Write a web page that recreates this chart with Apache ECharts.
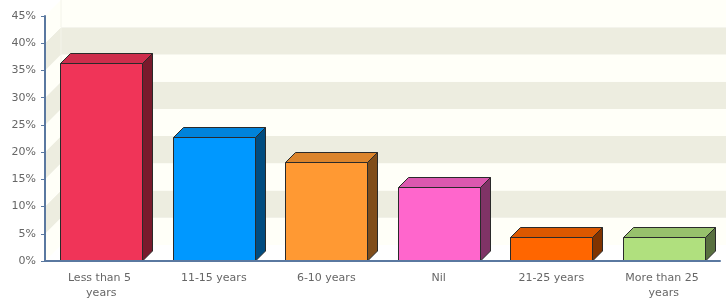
<!DOCTYPE html>
<html><head><meta charset="utf-8">
<script src="https://cdn.jsdelivr.net/npm/echarts@6/dist/echarts.min.js"></script>
<style>html,body{margin:0;padding:0;background:#fff}#c{width:726px;height:304px}</style>
</head><body><div id="c"></div>
<script>
var categories = ['Less than 5 years', '11-15 years', '6-10 years', 'Nil', '21-25 years', 'More than 25 years'];
var values = [36.4, 22.7, 18.2, 13.6, 4.5, 4.5];
var colors = ['#F03458', '#0098FF', '#FF9933', '#FF66CC', '#FF6600', '#B0E07E'];
var yTicks = [0, 5, 10, 15, 20, 25, 30, 35, 40, 45];

var WALL = 16, DEPTH = 10;
function shade(hex, f) {
  var n = parseInt(hex.slice(1), 16);
  var r = Math.round(((n >> 16) & 255) * f), g = Math.round(((n >> 8) & 255) * f), b = Math.round((n & 255) * f);
  return 'rgb(' + r + ',' + g + ',' + b + ')';
}
var bands = [];
for (var i = 0; i < yTicks.length - 1; i++) bands.push([0, yTicks[i], yTicks[i + 1], i]);

var chart = echarts.init(document.getElementById('c'));
chart.setOption({
  animation: false,
  backgroundColor: '#fff',
  grid: { left: 45, right: 6, top: 16, bottom: 43 },
  xAxis: {
    type: 'category', data: categories, z: 10,
    axisLine: { lineStyle: { color: '#5A78A0', width: 2 } },
    axisTick: { alignWithLabel: true, length: 5, lineStyle: { color: '#5A78A0' } },
    axisLabel: { interval: 0, color: '#666', fontFamily: 'DejaVu Sans', fontSize: 11, margin: 10, width: 84, overflow: 'break', lineHeight: 15 }
  },
  yAxis: {
    type: 'value', min: 0, max: 45, interval: 5, z: 10,
    axisLine: { show: true, lineStyle: { color: '#5A78A0', width: 2 } },
    axisTick: { show: true, length: 4, lineStyle: { color: '#5A78A0' } },
    splitLine: { show: false },
    axisLabel: { color: '#666', fontFamily: 'DejaVu Sans', fontSize: 11, margin: 9, formatter: '{value}%' }
  },
  series: [
    {
      type: 'custom', clip: false, z: 0, silent: true,
      data: bands,
      renderItem: function (params, api) {
        var cs = params.coordSys;
        var y0 = api.coord([0, api.value(1)])[1], y1 = api.coord([0, api.value(2)])[1];
        var fill = api.value(3) % 2 === 1 ? '#EDEDE0' : '#FFFFF8';
        var x0 = cs.x, x1 = cs.x + cs.width + WALL;
        return { type: 'group', children: [
          { type: 'rect', shape: { x: x0 + WALL, y: y1 - WALL, width: x1 - x0 - WALL, height: y0 - y1 }, style: { fill: fill } },
          { type: 'polygon', shape: { points: [[x0, y0], [x0 + WALL, y0 - WALL], [x0 + WALL, y1 - WALL], [x0, y1]] }, style: { fill: fill } },
          { type: 'line', shape: { x1: x0 + WALL, y1: y0 - WALL, x2: x0 + WALL, y2: y1 - WALL }, style: { stroke: '#F4F4EA', lineWidth: 1 } }
        ]};
      }
    },
    {
      type: 'custom', clip: false, z: 3,
      data: values.map(function (v, i) { return [i, v]; }),
      renderItem: function (params, api) {
        var i = api.value(0);
        var top = api.coord([i, api.value(1)]);
        var base = api.coord([i, 0]);
        var w = api.size([1, 0])[0] * 0.73;
        var l = Math.round(top[0] - w / 2) + 0.5, r = Math.round(top[0] + w / 2) + 0.5;
        var t = Math.round(top[1]) + 0.5, b = Math.round(base[1]);
        var c = colors[i];
        var st = { stroke: '#2A2A2A', lineWidth: 1 };
        return { type: 'group', children: [
          { type: 'polygon', shape: { points: [[r, t], [r + DEPTH, t - DEPTH], [r + DEPTH, b - DEPTH], [r, b]] }, style: Object.assign({ fill: shade(c, 0.5) }, st) },
          { type: 'polygon', shape: { points: [[l, t], [l + DEPTH, t - DEPTH], [r + DEPTH, t - DEPTH], [r, t]] }, style: Object.assign({ fill: shade(c, 0.86) }, st) },
          { type: 'rect', shape: { x: l, y: t, width: r - l, height: b - t }, style: Object.assign({ fill: c }, st) }
        ]};
      }
    }
  ]
});
</script></body></html>
